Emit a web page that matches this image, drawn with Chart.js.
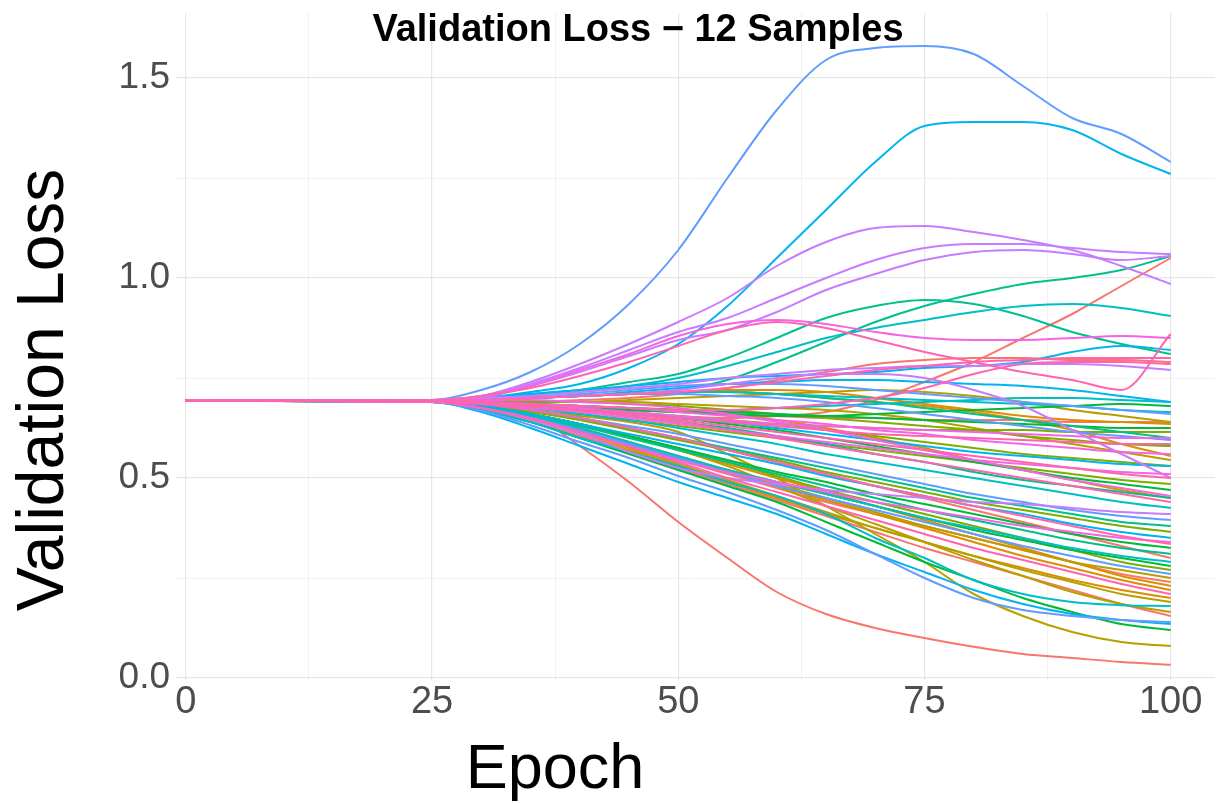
<!DOCTYPE html>
<html>
<head>
<meta charset="utf-8">
<script src="https://cdn.jsdelivr.net/npm/chart.js@4.4.1/dist/chart.umd.min.js"></script>
<style>
    html, body { margin: 0; padding: 0; background: #fff; }
    #wrap { position: relative; width: 1217px; height: 803px; }
</style>
</head>
<body>
<div id="wrap"><canvas id="lossChart"></canvas></div>
<script>
// --- data (validation loss per run, grouped by sample) ---
const epochs = [0, 25, 30, 35, 40, 45, 50, 55, 60, 65, 70, 75, 80, 85, 90, 95, 100];

const xTicks = [0, 25, 50, 75, 100];
const xTickLabels = ['0', '25', '50', '75', '100'];
const xMinor = [12.5, 37.5, 62.5, 87.5];
const yTicks = [0, 0.5, 1.0, 1.5];
const yTickLabels = ['0.0', '0.5', '1.0', '1.5'];
const yMinor = [0.25, 0.75, 1.25];

const palette = ['#F8766D', '#DE8C00', '#B79F00', '#7CAE00', '#00BA38', '#00C08B',
                 '#00BFC4', '#00B4F0', '#619CFF', '#C77CFF', '#F564E3', '#FF64B0'];

const sample01 = [
    [.693, .693, .69, .685, .675, .665, .655, .65, .655, .665, .695, .74, .79, .85, .91, .98, 1.05],
    [.693, .693, .69, .69, .695, .70, .71, .725, .745, .765, .785, .795, .80, .80, .795, .795, .79],
    [.693, .692, .688, .68, .675, .67, .665, .66, .655, .65, .65, .645, .645, .645, .64, .64, .64],
    [.693, .692, .685, .67, .65, .625, .60, .57, .54, .51, .48, .45, .42, .39, .36, .33, .30],
    [.693, .691, .675, .65, .615, .58, .545, .51, .475, .44, .41, .38, .35, .32, .29, .26, .24],
    [.693, .69, .67, .64, .605, .565, .525, .485, .445, .405, .365, .325, .29, .255, .22, .185, .155],
    [.693, .69, .685, .66, .58, .49, .39, .30, .215, .16, .125, .10, .078, .06, .05, .04, .033]
];
const sample02 = [
    [.693, .693, .695, .70, .705, .71, .715, .72, .72, .715, .70, .685, .67, .655, .645, .64, .635],
    [.693, .693, .695, .70, .705, .71, .715, .715, .71, .70, .69, .68, .665, .645, .62, .585, .555],
    [.693, .692, .69, .685, .68, .675, .67, .66, .645, .625, .60, .575, .545, .52, .495, .47, .45],
    [.693, .692, .68, .66, .635, .605, .57, .535, .50, .465, .43, .395, .36, .325, .29, .255, .23],
    [.693, .691, .675, .65, .62, .585, .55, .515, .48, .445, .41, .375, .34, .305, .275, .245, .22],
    [.693, .691, .672, .645, .61, .57, .53, .49, .45, .41, .375, .34, .305, .275, .245, .22, .20]
];
const sample03 = [
    [.693, .692, .69, .69, .69, .695, .70, .705, .71, .715, .72, .715, .705, .69, .67, .655, .64],
    [.693, .692, .69, .69, .69, .69, .685, .68, .675, .67, .66, .645, .625, .605, .585, .565, .545],
    [.693, .691, .678, .655, .625, .59, .555, .52, .485, .45, .415, .38, .35, .32, .29, .27, .25],
    [.693, .691, .675, .65, .615, .575, .535, .495, .455, .415, .375, .34, .305, .27, .24, .21, .19],
    [.693, .691, .68, .66, .635, .605, .57, .53, .48, .43, .385, .34, .295, .255, .215, .185, .165],
    [.693, .692, .685, .67, .655, .64, .615, .56, .50, .43, .36, .29, .21, .155, .115, .09, .08]
];
const sample04 = [
    [.693, .692, .688, .68, .67, .66, .65, .64, .635, .63, .625, .62, .62, .62, .615, .615, .615],
    [.693, .692, .69, .69, .69, .685, .68, .67, .66, .65, .64, .63, .62, .605, .595, .585, .58],
    [.693, .692, .688, .68, .675, .665, .655, .645, .635, .62, .605, .59, .575, .56, .55, .54, .53],
    [.693, .692, .685, .675, .66, .645, .63, .615, .60, .585, .57, .555, .54, .525, .51, .495, .485],
    [.693, .692, .68, .665, .645, .62, .595, .57, .545, .515, .49, .465, .44, .42, .40, .38, .365],
    [.693, .692, .68, .66, .635, .605, .575, .54, .505, .47, .44, .41, .38, .35, .32, .29, .27]
];
const sample05 = [
    [.693, .692, .69, .685, .68, .67, .665, .66, .655, .655, .66, .665, .67, .675, .68, .685, .68],
    [.693, .692, .69, .685, .68, .675, .67, .665, .66, .655, .65, .645, .64, .635, .63, .625, .625],
    [.693, .692, .688, .68, .67, .66, .65, .635, .62, .60, .58, .56, .54, .52, .50, .485, .47],
    [.693, .691, .68, .66, .635, .605, .575, .545, .515, .49, .46, .435, .41, .385, .36, .34, .325],
    [.693, .691, .675, .65, .62, .585, .55, .52, .49, .46, .43, .40, .37, .345, .32, .30, .28],
    [.693, .69, .67, .64, .60, .56, .52, .48, .44, .39, .34, .29, .245, .20, .165, .135, .12]
];
const sample06 = [
    [.693, .693, .695, .70, .705, .71, .72, .745, .79, .84, .89, .93, .96, .985, 1.0, 1.02, 1.055],
    [.693, .693, .70, .71, .72, .74, .76, .80, .85, .90, .93, .945, .935, .905, .865, .835, .81],
    [.693, .693, .695, .70, .705, .71, .715, .715, .71, .70, .69, .675, .66, .645, .63, .615, .60],
    [.693, .692, .688, .68, .67, .655, .64, .625, .605, .585, .56, .54, .515, .495, .48, .465, .45],
    [.693, .692, .685, .67, .65, .625, .60, .575, .55, .525, .50, .475, .45, .43, .41, .39, .38],
    [.693, .691, .678, .655, .63, .60, .57, .54, .51, .48, .45, .42, .395, .37, .345, .325, .31]
];
const sample07 = [
    [.693, .693, .70, .705, .715, .73, .75, .78, .815, .85, .875, .895, .915, .93, .935, .925, .905],
    [.693, .692, .69, .685, .68, .675, .67, .67, .675, .68, .685, .69, .695, .70, .70, .695, .69],
    [.693, .693, .695, .70, .705, .71, .715, .715, .71, .705, .70, .695, .69, .685, .68, .67, .665],
    [.693, .692, .685, .675, .66, .645, .625, .605, .585, .56, .54, .52, .50, .48, .46, .44, .425],
    [.693, .691, .678, .655, .625, .59, .555, .52, .49, .46, .43, .40, .375, .35, .325, .305, .29],
    [.693, .69, .67, .64, .60, .565, .53, .49, .455, .41, .35, .30, .245, .21, .19, .182, .18]
];
const sample08 = [
    [.693, .693, .70, .715, .735, .775, .835, .93, 1.05, 1.17, 1.29, 1.38, 1.39, 1.39, 1.37, 1.31, 1.26],
    [.693, .693, .70, .71, .72, .73, .74, .75, .755, .76, .765, .775, .78, .79, .815, .83, .82],
    [.693, .693, .695, .70, .705, .715, .725, .735, .74, .745, .745, .74, .735, .73, .72, .705, .69],
    [.693, .692, .688, .68, .67, .66, .65, .64, .625, .61, .595, .58, .565, .555, .545, .535, .53],
    [.693, .691, .68, .66, .635, .61, .585, .56, .535, .505, .48, .455, .43, .41, .385, .365, .35],
    [.693, .69, .665, .625, .58, .535, .49, .45, .41, .36, .31, .265, .22, .185, .16, .145, .135]
];
const sample09 = [
    [.693, .695, .72, .765, .835, .935, 1.07, 1.25, 1.42, 1.545, 1.575, 1.58, 1.56, 1.48, 1.40, 1.36, 1.29],
    [.693, .693, .695, .70, .71, .72, .73, .735, .735, .73, .72, .71, .70, .69, .68, .67, .66],
    [.693, .693, .695, .70, .705, .71, .71, .705, .70, .69, .675, .66, .645, .63, .615, .605, .595],
    [.693, .692, .685, .67, .65, .63, .61, .585, .56, .535, .51, .485, .46, .44, .42, .405, .395],
    [.693, .691, .675, .65, .62, .585, .55, .515, .48, .45, .42, .39, .36, .33, .305, .28, .26],
    [.693, .69, .668, .632, .59, .55, .505, .465, .42, .37, .31, .25, .20, .17, .155, .145, .14]
];
const sample10 = [
    [.693, .695, .705, .74, .785, .835, .89, .95, 1.03, 1.09, 1.125, 1.13, 1.115, 1.095, 1.07, 1.03, .985],
    [.693, .695, .705, .735, .775, .82, .865, .90, .95, 1.00, 1.045, 1.075, 1.085, 1.085, 1.075, 1.065, 1.06],
    [.693, .694, .70, .73, .765, .805, .845, .87, .915, .97, 1.01, 1.045, 1.065, 1.07, 1.06, 1.045, 1.055],
    [.693, .694, .70, .705, .715, .725, .735, .75, .76, .77, .775, .78, .78, .785, .785, .78, .77],
    [.693, .693, .695, .70, .705, .71, .72, .735, .75, .76, .76, .75, .72, .68, .62, .56, .50],
    [.693, .69, .675, .645, .61, .565, .525, .50, .485, .47, .46, .45, .44, .435, .425, .415, .41]
];
const sample11 = [
    [.693, .695, .705, .73, .77, .81, .855, .885, .895, .885, .865, .85, .845, .845, .85, .855, .85],
    [.693, .692, .69, .685, .675, .665, .655, .645, .635, .63, .625, .62, .615, .61, .605, .60, .60],
    [.693, .692, .69, .685, .68, .675, .665, .655, .645, .635, .62, .61, .595, .585, .575, .565, .56],
    [.693, .692, .685, .675, .665, .65, .635, .62, .605, .59, .575, .56, .545, .535, .525, .515, .51],
    [.693, .693, .695, .695, .69, .685, .675, .66, .64, .62, .595, .57, .545, .52, .495, .475, .455],
    [.693, .69, .675, .65, .615, .58, .545, .515, .49, .465, .44, .42, .40, .38, .365, .35, .34]
];
const sample12 = [
    [.693, .695, .705, .725, .755, .79, .83, .87, .89, .875, .845, .815, .79, .765, .745, .72, .86],
    [.693, .693, .695, .70, .705, .71, .715, .725, .74, .755, .77, .78, .79, .795, .80, .80, .80],
    [.693, .693, .69, .685, .68, .675, .67, .67, .675, .685, .70, .725, .76, .785, .79, .79, .785],
    [.693, .692, .688, .68, .67, .66, .65, .64, .63, .62, .61, .605, .60, .595, .59, .585, .585],
    [.693, .692, .688, .68, .67, .66, .645, .63, .615, .60, .585, .57, .555, .54, .525, .51, .50],
    [.693, .692, .688, .68, .67, .655, .64, .62, .60, .58, .56, .54, .52, .50, .48, .46, .44],
    [.693, .692, .685, .67, .65, .625, .60, .57, .54, .51, .48, .455, .43, .405, .38, .355, .335],
    [.693, .691, .675, .648, .615, .578, .54, .50, .465, .43, .395, .36, .325, .295, .265, .235, .21]
];

const samples = [sample01, sample02, sample03, sample04, sample05, sample06,
                 sample07, sample08, sample09, sample10, sample11, sample12];

// one dataset per run; later samples sit on top, so reverse at the end
let datasets = [];
samples.forEach(function(runs, i) {
    runs.forEach(function(values, j) {
        datasets.push({
            label: 'Sample ' + (i + 1) + ' run ' + (j + 1),
            data: values.map(function(v, k) { return { x: epochs[k], y: v }; }),
            borderColor: palette[i],
            borderWidth: 2,
            pointRadius: 0,
            fill: false,
            cubicInterpolationMode: 'monotone'
        });
    });
});
datasets.reverse();

const FONT = '"Liberation Sans", Arial, Helvetica, sans-serif';

function gridColor(majors) {
    return function(ctx) {
        return majors.indexOf(ctx.tick.value) >= 0 ? '#E6E6E6' : '#F1F1F1';
    };
}
function gridWidth(majors) {
    return function(ctx) {
        return majors.indexOf(ctx.tick.value) >= 0 ? 1.2 : 0.9;
    };
}
function noPadding(scale) {
    scale.paddingTop = 0;
    scale.paddingBottom = 0;
    scale.paddingLeft = 0;
    scale.paddingRight = 0;
}

// main title and axis titles, placed like the reference
const titlesPlugin = {
    id: 'titles',
    afterDraw: function(chart) {
        const c = chart.ctx;
        c.save();
        c.fillStyle = '#000000';
        c.textAlign = 'center';
        c.textBaseline = 'alphabetic';
        c.font = 'bold 38px ' + FONT;
        c.fillText('Validation Loss \u2212 12 Samples', 638, 41);
        c.font = '63px ' + FONT;
        c.fillText('Epoch', 555, 788);
        c.translate(63, 390);
        c.rotate(-Math.PI / 2);
        c.font = '66px ' + FONT;
        c.fillText('Validation Loss', 0, 0);
        c.restore();
    }
};

const canvas = document.getElementById('lossChart');
new Chart(canvas.getContext('2d'), {
    type: 'line',
    data: { datasets: datasets },
    options: {
        responsive: true,
        maintainAspectRatio: false,
        animation: false,
        parsing: false,
        layout: { padding: { top: 13, right: 2, left: 0, bottom: 0 } },
        plugins: {
            legend: { display: false },
            tooltip: { enabled: false },
            title: { display: false }
        },
        scales: {
            x: {
                type: 'linear',
                min: -1,
                max: 104.5,
                border: { display: false },
                grid: { color: gridColor(xTicks), lineWidth: gridWidth(xTicks), drawTicks: false },
                afterBuildTicks: function(scale) {
                    scale.ticks = xTicks.concat(xMinor).sort(function(a, b) { return a - b; })
                        .map(function(v) { return { value: v }; });
                },
                afterFit: function(scale) { scale.height = 123; noPadding(scale); },
                ticks: {
                    autoSkip: false,
                    maxRotation: 0,
                    padding: 0,
                    color: '#4D4D4D',
                    font: { family: FONT, size: 38 },
                    callback: function(value) {
                        const i = xTicks.indexOf(value);
                        return i >= 0 ? xTickLabels[i] : '';
                    }
                }
            },
            y: {
                type: 'linear',
                min: -0.005,
                max: 1.6625,
                border: { display: false },
                grid: { color: gridColor(yTicks), lineWidth: gridWidth(yTicks), drawTicks: false },
                afterBuildTicks: function(scale) {
                    scale.ticks = yTicks.concat(yMinor).sort(function(a, b) { return a - b; })
                        .map(function(v) { return { value: v }; });
                },
                afterFit: function(scale) { scale.width = 176; noPadding(scale); },
                ticks: {
                    autoSkip: false,
                    padding: 6,
                    color: '#4D4D4D',
                    font: { family: FONT, size: 37 },
                    callback: function(value) {
                        const i = yTicks.indexOf(value);
                        return i >= 0 ? yTickLabels[i] : '';
                    }
                }
            }
        }
    },
    plugins: [titlesPlugin]
});
</script>
</body>
</html>
